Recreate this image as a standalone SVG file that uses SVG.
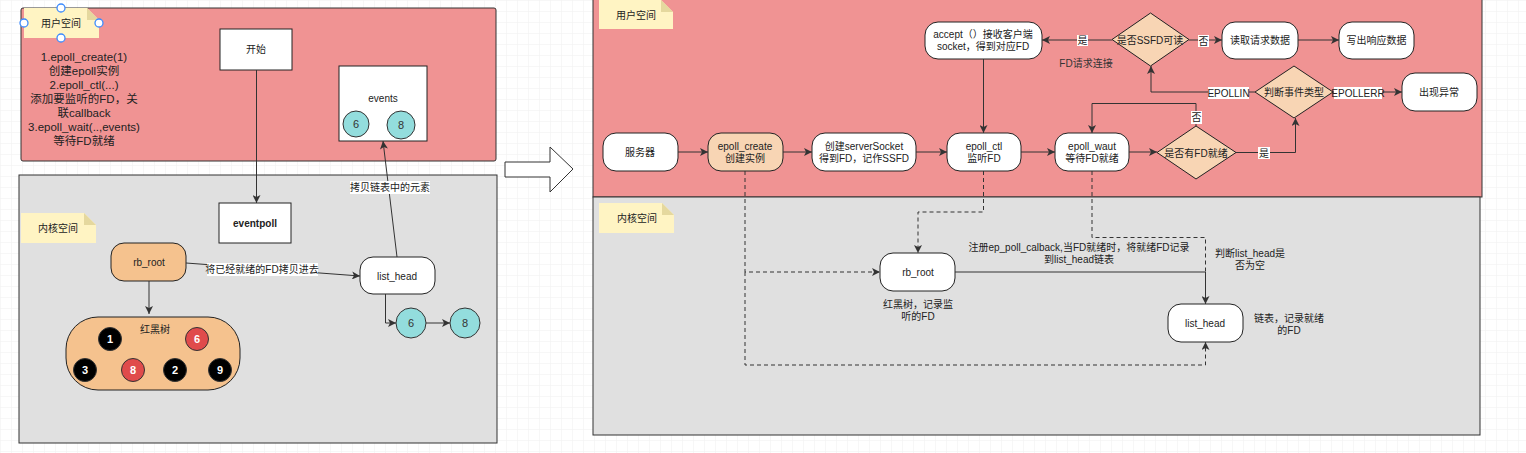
<svg xmlns="http://www.w3.org/2000/svg" width="1526" height="453" viewBox="0 0 1526 453">
<defs>
<pattern id="grid" width="11" height="11" patternUnits="userSpaceOnUse">
<path d="M11,0 L0,0 L0,11" fill="none" stroke="#efefef" stroke-width="1"/>
</pattern>
<marker id="arr" viewBox="0 0 10 10" refX="10" refY="5" markerWidth="9" markerHeight="8" markerUnits="userSpaceOnUse" orient="auto">
<path d="M0,0 L10,5 L0,10 L2.5,5 Z" fill="#333"/>
</marker>
<style>
text{font-family:"Liberation Sans","Noto Sans CJK SC",sans-serif;font-size:10px;fill:#222;text-anchor:middle;dominant-baseline:central}
.big{font-size:11.5px}
.panelU{fill:#F09393;stroke:#333;stroke-width:1}
.panelK{fill:#E0E0E0;stroke:#333;stroke-width:1}
.note{fill:#FFF4C3}
.fold{fill:#E5D89E}
.box{fill:#fff;stroke:#222;stroke-width:1}
.orange{fill:#F5C28E;stroke:#222;stroke-width:1}
.peach{fill:#F8D5B4;stroke:#222;stroke-width:1}
.cyan{fill:#93DDDD;stroke:#333;stroke-width:1}
.blk{fill:#000;stroke:#333;stroke-width:1}
.red{fill:#E04B4B;stroke:#333;stroke-width:1}
.num{fill:#fff;font-weight:bold;font-size:11px}
.cnum{font-size:11px;fill:#333}
.ln{fill:none;stroke:#333;stroke-width:1}
.dash{fill:none;stroke:#333;stroke-width:1;stroke-dasharray:4 3}
.lbg{fill:#fff}
.handle{fill:#fff;stroke:#3D8BFD;stroke-width:1.3}
</style>
</defs>
<rect x="0" y="0" width="1526" height="453" fill="#fff"/>
<rect x="0" y="0" width="1526" height="453" fill="url(#grid)"/>

<!-- LEFT DIAGRAM -->
<g id="left-user-space">
<rect class="panelU" x="21" y="8" width="475" height="153" rx="2"/>
</g>
<g id="left-kernel-space">
<rect class="panelK" x="19" y="175" width="478" height="268"/>
</g>
<g id="left-note-user">
<polygon class="note" points="24,8 87,8 99,20 99,38 24,38"/>
<polygon class="fold" points="87,8 99,20 87,20"/>
<text x="61" y="23">用户空间</text>
<circle class="handle" cx="61" cy="8" r="4"/>
<circle class="handle" cx="24" cy="23" r="4"/>
<circle class="handle" cx="99" cy="23" r="4"/>
<circle class="handle" cx="61" cy="38" r="4"/>
</g>
<g id="left-steps">
<text class="big" x="84" y="57">1.epoll_create(1)</text>
<text class="big" x="84" y="71">创建epoll实例</text>
<text class="big" x="84" y="85">2.epoll_ctl(...)</text>
<text class="big" x="84" y="99">添加要监听的FD，关</text>
<text class="big" x="84" y="113">联callback</text>
<text class="big" x="84" y="127">3.epoll_wait(..,events)</text>
<text class="big" x="84" y="141">等待FD就绪</text>
</g>
<g id="left-start">
<rect class="box" x="220" y="29" width="72" height="41"/>
<text x="256" y="49">开始</text>
</g>
<g id="left-events">
<rect class="box" x="339" y="66" width="88" height="75"/>
<text x="383" y="98">events</text>
<circle class="cyan" cx="356" cy="124" r="13"/>
<text class="cnum" x="356" y="124">6</text>
<circle class="cyan" cx="401" cy="125" r="14"/>
<text class="cnum" x="401" y="125">8</text>
</g>
<g id="left-note-kernel">
<polygon class="note" points="21,213 84,213 96,225 96,243 21,243"/>
<polygon class="fold" points="84,213 96,225 84,225"/>
<text x="58" y="228">内核空间</text>
</g>
<g id="left-eventpoll">
<rect class="box" x="219" y="203" width="72" height="40"/>
<text x="255" y="223" style="font-weight:bold">eventpoll</text>
</g>
<g id="left-rb-root">
<rect class="orange" x="111" y="243" width="75" height="38" rx="13"/>
<text x="149" y="262">rb_root</text>
</g>
<g id="left-rbtree">
<rect class="orange" x="66" y="317" width="174" height="73" rx="32"/>
<text x="155" y="329">红黑树</text>
<circle class="blk" cx="110" cy="339" r="11.5"/><text class="num" x="110" y="339">1</text>
<circle class="red" cx="197" cy="339" r="11.5"/><text class="num" x="197" y="339">6</text>
<circle class="blk" cx="85" cy="370" r="11.5"/><text class="num" x="85" y="370">3</text>
<circle class="red" cx="133" cy="370" r="11.5"/><text class="num" x="133" y="370">8</text>
<circle class="blk" cx="175" cy="370" r="11.5"/><text class="num" x="175" y="370">2</text>
<circle class="blk" cx="220" cy="370" r="11.5"/><text class="num" x="220" y="370">9</text>
</g>
<g id="left-list-head">
<rect class="box" x="360" y="257" width="75" height="37" rx="13"/>
<text x="397" y="276">list_head</text>
</g>
<g id="left-node-6">
<circle class="cyan" cx="411" cy="323" r="15"/>
<text class="cnum" x="411" y="323">6</text>
</g>
<g id="left-node-8">
<circle class="cyan" cx="465" cy="323" r="15"/>
<text class="cnum" x="465" y="323">8</text>
</g>

<g id="left-connectors">
<line class="ln" x1="256.5" y1="70" x2="256.5" y2="203" marker-end="url(#arr)"/>
<line class="ln" x1="149" y1="281" x2="149" y2="314" marker-end="url(#arr)"/>
<line class="ln" x1="186" y1="263" x2="360" y2="276" marker-end="url(#arr)"/>
<rect class="lbg" x="207" y="263" width="111" height="13"/>
<text x="262" y="269.5">将已经就绪的FD拷贝进去</text>
<polyline class="ln" points="385.5,294 385.5,323 396,323" marker-end="url(#arr)"/>
<line class="ln" x1="426" y1="323" x2="450" y2="323" marker-end="url(#arr)"/>
<line class="ln" x1="397" y1="257" x2="383" y2="141" marker-end="url(#arr)"/>
<rect class="lbg" x="350" y="181" width="80" height="13"/>
<text x="390" y="187.5">拷贝链表中的元素</text>
</g>

<!-- big hollow arrow -->
<g id="transition-arrow">
<polygon points="505,162 550,162 550,147 573,169 550,192 550,177 505,177" fill="#fff" stroke="#333" stroke-width="1"/>
</g>

<!-- RIGHT DIAGRAM -->
<g id="right-user-space">
<rect class="panelU" x="593" y="-2" width="889" height="199"/>
</g>
<g id="right-kernel-space">
<rect class="panelK" x="593" y="197" width="887" height="238"/>
</g>
<g id="right-note-user">
<polygon class="note" points="599,0 661,0 673,12 673,29 599,29"/>
<polygon class="fold" points="661,0 673,12 661,12"/>
<text x="636" y="15">用户空间</text>
</g>
<g id="right-note-kernel">
<polygon class="note" points="599,203 662,203 674,215 674,233 599,233"/>
<polygon class="fold" points="662,203 674,215 662,215"/>
<text x="637" y="218">内核空间</text>
</g>
<g id="server">
<rect class="box" x="603" y="133" width="75" height="38" rx="13"/>
<text x="640" y="152">服务器</text>
</g>
<g id="epoll-create">
<rect class="peach" x="708" y="133" width="75" height="38" rx="13"/>
<text x="745" y="146">epoll_create</text>
<text x="745" y="158">创建实例</text>
</g>
<g id="create-socket">
<rect class="box" x="812" y="133" width="104" height="38" rx="13"/>
<text x="864" y="146">创建serverSocket</text>
<text x="864" y="158">得到FD，记作SSFD</text>
</g>
<g id="epoll-ctl">
<rect class="box" x="947" y="133" width="74" height="38" rx="13"/>
<text x="984" y="146">epoll_ctl</text>
<text x="984" y="158">监听FD</text>
</g>
<g id="accept">
<rect class="box" x="925" y="22" width="117" height="37" rx="13"/>
<text x="983" y="34">accept（）接收客户端</text>
<text x="983" y="46">socket，得到对应FD</text>
</g>
<g id="epoll-wait">
<rect class="box" x="1055" y="133" width="74" height="38" rx="13"/>
<text x="1092" y="146">epoll_waut</text>
<text x="1092" y="158">等待FD就绪</text>
</g>
<g id="fd-ready">
<polygon class="peach" points="1196,126 1236,152.5 1196,179 1157,152.5"/>
<text x="1196" y="153">是否有FD就绪</text>
</g>
<g id="event-type">
<polygon class="peach" points="1294,66 1333,92 1294,118 1255,92"/>
<text x="1294" y="92">判断事件类型</text>
</g>
<g id="ssfd-readable">
<polygon class="peach" points="1150.5,13 1189,39.5 1150.5,66 1112,39.5"/>
<text x="1150" y="40">是否SSFD可读</text>
</g>
<g id="read-request">
<rect class="box" x="1222" y="22" width="76" height="37" rx="13"/>
<text x="1260" y="40">读取请求数据</text>
</g>
<g id="write-response">
<rect class="box" x="1339" y="22" width="75" height="37" rx="13"/>
<text x="1376.5" y="40">写出响应数据</text>
</g>
<g id="exception">
<rect class="box" x="1402" y="73" width="75" height="38" rx="13"/>
<text x="1439" y="92">出现异常</text>
</g>
<g id="rb-root">
<rect class="box" x="880" y="253" width="75" height="38" rx="13"/>
<text x="918" y="272">rb_root</text>
</g>
<g id="list-head">
<rect class="box" x="1168" y="304" width="75" height="38" rx="13"/>
<text x="1205" y="323">list_head</text>
</g>

<g id="right-connectors">
<line class="ln" x1="678" y1="152" x2="708" y2="152" marker-end="url(#arr)"/>
<line class="ln" x1="783" y1="152" x2="812" y2="152" marker-end="url(#arr)"/>
<line class="ln" x1="916" y1="152" x2="947" y2="152" marker-end="url(#arr)"/>
<line class="ln" x1="1021" y1="152" x2="1055" y2="152" marker-end="url(#arr)"/>
<line class="ln" x1="1129" y1="152" x2="1157" y2="152" marker-end="url(#arr)"/>
<polyline class="ln" points="1236,152.5 1295.5,152.5 1295.5,118" marker-end="url(#arr)"/>
<rect class="lbg" x="1258" y="147" width="12" height="12"/>
<text x="1264" y="153">是</text>
<polyline class="ln" points="1196,126 1196,103.5 1092,103.5 1092,133" marker-end="url(#arr)"/>
<rect class="lbg" x="1191" y="111" width="11" height="13"/>
<text x="1196.5" y="117.5">否</text>
<polyline class="ln" points="1255,92 1151,92 1151,66" marker-end="url(#arr)"/>
<rect class="lbg" x="1208" y="87" width="41" height="12"/>
<text x="1228.5" y="93">EPOLLIN</text>
<line class="ln" x1="1333" y1="92" x2="1402" y2="92" marker-end="url(#arr)"/>
<rect class="lbg" x="1334" y="87" width="48" height="12"/>
<text x="1358" y="93">EPOLLERR</text>
<line class="ln" x1="1189" y1="40" x2="1222" y2="40" marker-end="url(#arr)"/>
<rect class="lbg" x="1198" y="35" width="11" height="12"/>
<text x="1203.5" y="41">否</text>
<line class="ln" x1="1298" y1="40" x2="1339" y2="40" marker-end="url(#arr)"/>
<line class="ln" x1="1112" y1="40" x2="1042" y2="40" marker-end="url(#arr)"/>
<rect class="lbg" x="1077" y="35" width="11" height="11"/>
<text x="1082.5" y="40.5">是</text>
<text x="1086" y="63" style="fill:#333">FD请求连接</text>
<line class="ln" x1="983.5" y1="59" x2="983.5" y2="133" marker-end="url(#arr)"/>

<polyline class="dash" points="745,171 745,272 880,272" marker-end="url(#arr)"/>
<polyline class="dash" points="745,272 745,365 1205.5,365 1205.5,342" marker-end="url(#arr)"/>
<polyline class="dash" points="983.5,171 983.5,212 918,212 918,253" marker-end="url(#arr)"/>
<polyline class="dash" points="1092,171 1092,237.5 1205.5,237.5 1205.5,272"/>
<polyline class="ln" points="955,272 1205.5,272 1205.5,304" marker-end="url(#arr)"/>
<text x="1079" y="247">注册ep_poll_calback,当FD就绪时，将就绪FD记录</text>
<text x="1079" y="259">到list_head链表</text>
<text x="1250" y="253">判断list_head是</text>
<text x="1250" y="265">否为空</text>
<text x="918" y="304">红黑树，记录监</text>
<text x="918" y="316">听的FD</text>
<text x="1289" y="318">链表，记录就绪</text>
<text x="1289" y="330">的FD</text>
</g>
</svg>
